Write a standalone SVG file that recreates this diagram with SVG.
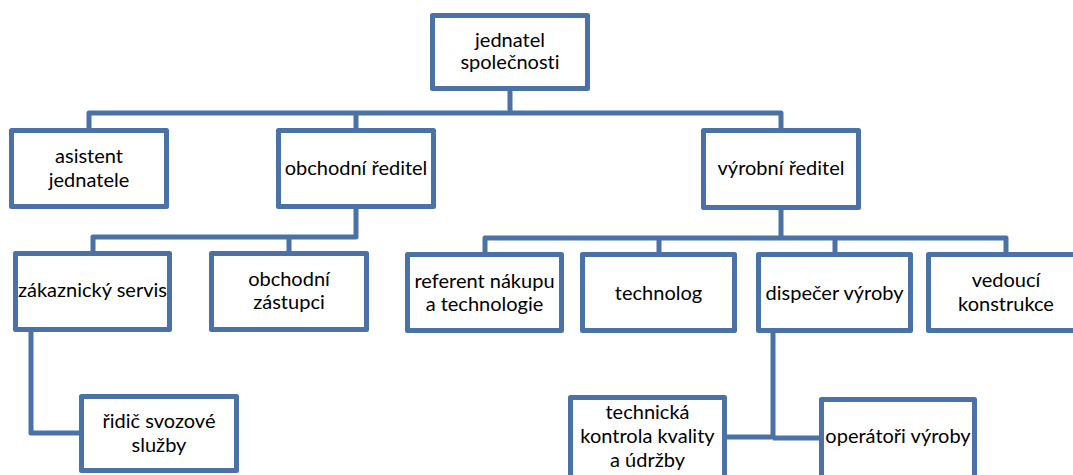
<svg xmlns="http://www.w3.org/2000/svg" width="1073" height="475" viewBox="0 0 1073 475">
<style>
.box{fill:#fff;stroke:#4A72A6;stroke-width:5;stroke-linejoin:round}
.conn{fill:none;stroke:#4A72A6;stroke-width:5;stroke-linejoin:round}
text{font-family:Lato,"Noto Sans",sans-serif;font-size:20px;fill:#000;text-anchor:middle;font-variant-ligatures:none;font-feature-settings:"liga" 0}
</style>
<rect width="1073" height="475" fill="#fff"/>
<g id="connectors">
<path class="conn" d="M510,91 V113 M89,128 V113 H781 V128 M356,113 V128"/>
<path class="conn" d="M356,209 V237 H93 V251 M289,237 V251"/>
<path class="conn" d="M781,210 V238 H485 V252 M659,238 V252 M781,238 H1006 V252 M835,238 V252"/>
<path class="conn" d="M31,332 V433 H79"/>
<path class="conn" d="M773,333 V437 H727 M773,438 H819"/>
</g>
<g id="jednatel"><rect class="box" x="432.5" y="15.5" width="155" height="73"/><text x="510" y="47">jednatel</text><text x="510" y="69">společnosti</text></g>
<g id="asistent"><rect class="box" x="11.5" y="130.5" width="155" height="76"/><text x="89" y="163">asistent</text><text x="89" y="187">jednatele</text></g>
<g id="obchodni-reditel"><rect class="box" x="278.5" y="130.5" width="155" height="76"/><text x="356" y="175">obchodní ředitel</text></g>
<g id="vyrobni-reditel"><rect class="box" x="703.5" y="130.5" width="155" height="77"/><text x="781" y="175">výrobní ředitel</text></g>
<g id="zakaznicky-servis"><rect class="box" x="15.5" y="253.5" width="154" height="76"/><text x="92.5" y="297">zákaznický servis</text></g>
<g id="obchodni-zastupci"><rect class="box" x="211.5" y="253.5" width="155" height="76"/><text x="289" y="286">obchodní</text><text x="289" y="309">zástupci</text></g>
<g id="referent"><rect class="box" x="407.5" y="254.5" width="154" height="76"/><text x="484.5" y="288">referent nákupu</text><text x="484.5" y="311">a technologie</text></g>
<g id="technolog"><rect class="box" x="582.5" y="254.5" width="152" height="76"/><text x="658.5" y="300">technolog</text></g>
<g id="dispecer"><rect class="box" x="758.5" y="254.5" width="152" height="76"/><text x="834.5" y="300">dispečer výroby</text></g>
<g id="vedouci"><rect class="box" x="928.5" y="254.5" width="155" height="76"/><text x="1006" y="287">vedoucí</text><text x="1006" y="311">konstrukce</text></g>
<g id="ridic"><rect class="box" x="81.5" y="396.5" width="155" height="74"/><text x="159" y="428">řidič svozové</text><text x="159" y="452">služby</text></g>
<g id="technicka"><rect class="box" x="570.5" y="397.5" width="154" height="85"/><text x="647.5" y="419">technická</text><text x="647.5" y="443">kontrola kvality</text><text x="647.5" y="467">a údržby</text></g>
<g id="operatori"><rect class="box" x="821.5" y="399.5" width="153" height="85"/><text x="898" y="443">operátoři výroby</text></g>
</svg>
